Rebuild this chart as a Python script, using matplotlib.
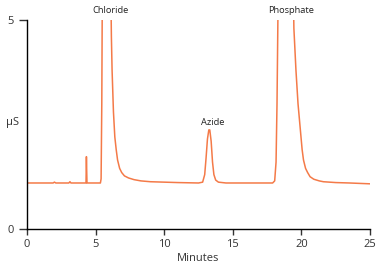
import matplotlib
matplotlib.use("Agg")
import matplotlib.pyplot as plt

times = [0.0, 1.9, 2.0, 2.1, 3.05, 3.13, 3.2, 4.3, 4.33, 4.37, 5.35, 5.40, 5.45, 5.50, 5.55, 5.7, 5.85,
         6.0, 6.1, 6.15, 6.2, 6.3, 6.4, 6.5, 6.6, 6.75, 6.9, 7.1, 7.4, 7.8, 8.3, 9.0, 10.0, 11.0,
         12.5, 12.8, 12.95, 13.05, 13.15, 13.25, 13.32, 13.42, 13.52, 13.62, 13.75, 13.95, 14.5,
         17.0, 17.9, 18.05, 18.15, 18.22, 18.3, 18.4, 18.6, 18.9, 19.2, 19.35, 19.45, 19.6, 19.75,
         19.9, 20.05, 20.15, 20.3, 20.45, 20.63, 20.9, 21.3, 21.6, 22.5, 23.5, 25.0]
signal = [1.10, 1.10, 1.12, 1.10, 1.10, 1.13, 1.10, 1.10, 1.73, 1.10, 1.10, 1.2, 3.0, 6.5, 10.0, 14.0, 14.0,
          10.0, 6.0, 4.6, 3.8, 2.8, 2.2, 1.9, 1.65, 1.45, 1.35, 1.27, 1.22, 1.18, 1.15, 1.13, 1.12, 1.11,
          1.10, 1.12, 1.3, 1.7, 2.15, 2.37, 2.37, 2.1, 1.6, 1.3, 1.17, 1.12, 1.10,
          1.10, 1.10, 1.15, 1.6, 3.0, 5.5, 9.0, 13.0, 14.0, 11.0, 7.0, 4.8, 3.8, 3.0,
          2.45, 1.9, 1.65, 1.45, 1.35, 1.25, 1.19, 1.15, 1.13, 1.11, 1.10, 1.08]

peak_names = ["Chloride", "Azide", "Phosphate"]
peak_times = [6.05, 13.5, 19.24]
peak_label_y = [5.12, 2.45, 5.12]

x_ticks = [0, 5, 10, 15, 20, 25]
y_ticks = [0, 5]

plt.rcParams['font.family'] = ['Open Sans', 'DejaVu Sans']

fig = plt.figure(figsize=(3.82, 2.70), dpi=100)
ax = fig.add_axes([0.0707, 0.152, 0.898, 0.774])
ax.plot(times, signal, color='#F47A48', lw=1.1)
ax.set_xlim(0, 25)
ax.set_ylim(0, 5)
ax.set_xticks(x_ticks)
ax.set_yticks(y_ticks)
for s in ['top', 'right']:
    ax.spines[s].set_visible(False)
for s in ['left', 'bottom']:
    ax.spines[s].set_linewidth(1.0)
    ax.spines[s].set_color('black')
ax.tick_params(axis='both', labelsize=8, colors='#333333', length=4, width=1, direction='out')
ax.tick_params(axis='y', length=6)
ax.set_xlabel('Minutes', fontsize=8, color='#333333', labelpad=2)
ax.set_ylabel('µS', fontsize=8, color='#333333', rotation=0, va='center', ha='center')
ax.yaxis.set_label_coords(-0.042, 0.51)
for name, t, y in zip(peak_names, peak_times, peak_label_y):
    ax.text(t, y, name, ha='center', va='bottom', fontsize=6.7, color='#222222', clip_on=False)

fig.savefig('out.png', dpi=100)
